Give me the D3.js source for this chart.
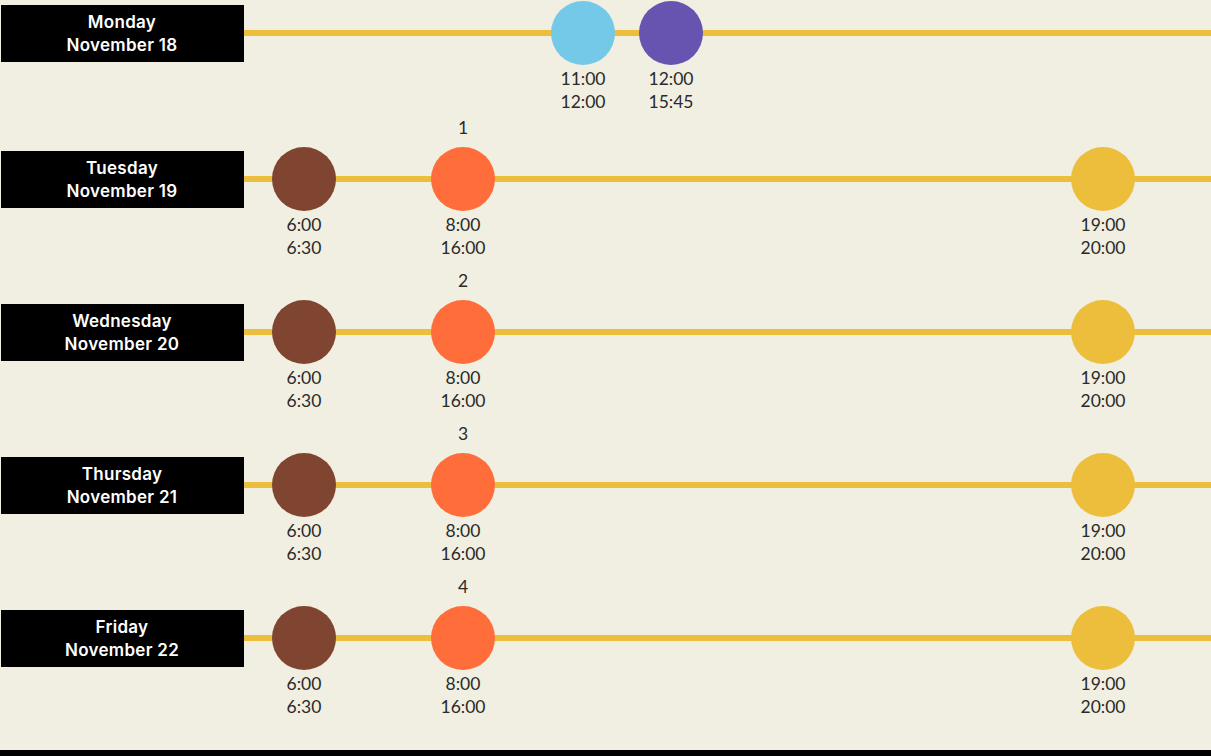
<!DOCTYPE html>
<html>
<head>
<meta charset="utf-8">
<script src="https://cdn.jsdelivr.net/npm/d3@7"></script>
<style>
  html, body { margin: 0; padding: 0; background: #f1efe1; }
  svg { display: block; }
</style>
</head>
<body>
<div id="schedule"></div>
<script>
// Days shown on the left
const days = ["Monday", "Tuesday", "Wednesday", "Thursday", "Friday"];
const dates = ["November 18", "November 19", "November 20", "November 21", "November 22"];

// Events (one entry per circle)
const eventDay = ["Monday", "Monday",
  "Tuesday", "Tuesday", "Tuesday",
  "Wednesday", "Wednesday", "Wednesday",
  "Thursday", "Thursday", "Thursday",
  "Friday", "Friday", "Friday"];
const eventStart = ["11:00", "12:00",
  "6:00", "8:00", "19:00",
  "6:00", "8:00", "19:00",
  "6:00", "8:00", "19:00",
  "6:00", "8:00", "19:00"];
const eventEnd = ["12:00", "15:45",
  "6:30", "16:00", "20:00",
  "6:30", "16:00", "20:00",
  "6:30", "16:00", "20:00",
  "6:30", "16:00", "20:00"];
const eventType = ["arrival", "opening",
  "breakfast", "session", "dinner",
  "breakfast", "session", "dinner",
  "breakfast", "session", "dinner",
  "breakfast", "session", "dinner"];
const eventNumber = ["", "",
  "", "1", "",
  "", "2", "",
  "", "3", "",
  "", "4", ""];

const types = ["arrival", "opening", "breakfast", "session", "dinner"];
const typeColors = ["#74c9e8", "#6753b0", "#7f4530", "#ff6d3b", "#ecbe3c"];

const width = 1211, height = 756;
const boxW = 243, boxH = 57, r = 32;

const hour = s => { const [h, m] = s.split(":"); return +h + (+m) / 60; };

const events = eventDay.map((d, i) => ({
  day: d, start: eventStart[i], end: eventEnd[i],
  type: eventType[i], num: eventNumber[i]
}));

const svg = d3.select("#schedule")
  .append("svg")
  .attr("width", width)
  .attr("height", height);

svg.append("rect")
  .attr("width", width)
  .attr("height", height)
  .attr("fill", "#f1efe1");

// Row positions
const y = d3.scaleLinear()
  .domain([0, 1, 4])
  .range([33, 179, 638]);

// Time of day -> x (stretched around the busy slots)
const x = d3.scaleLinear()
  .domain([6, 8, 11, 12, 19])
  .range([304, 463, 583, 671, 1103]);

const color = d3.scaleOrdinal().domain(types).range(typeColors);

const labelFont = "600 17px Inter, sans-serif";
const timeFont = "17.5px Lato, sans-serif";

const rows = svg.selectAll(".row")
  .data(days)
  .enter().append("g")
  .attr("class", "row")
  .attr("transform", (d, i) => `translate(0,${y(i)})`);

// Timeline line
rows.append("line")
  .attr("x1", boxW)
  .attr("x2", width)
  .attr("stroke", "#ecbe3c")
  .attr("stroke-width", 6);

// Day label box
rows.append("rect")
  .attr("x", 1)
  .attr("y", -28)
  .attr("width", boxW)
  .attr("height", boxH)
  .attr("fill", "#000");

rows.append("text")
  .attr("x", 122)
  .attr("y", -5)
  .attr("text-anchor", "middle")
  .attr("fill", "#fff")
  .style("font", labelFont)
  .style("letter-spacing", "0.3px")
  .text(d => d);

rows.append("text")
  .attr("x", 122)
  .attr("y", 18)
  .attr("text-anchor", "middle")
  .attr("fill", "#fff")
  .style("font", labelFont)
  .style("letter-spacing", "0.3px")
  .text((d, i) => dates[i]);

// Events
const ev = svg.selectAll(".event")
  .data(events)
  .enter().append("g")
  .attr("class", "event")
  .attr("transform", d => `translate(${x(hour(d.start))},${y(days.indexOf(d.day))})`);

ev.append("circle")
  .attr("r", r)
  .attr("fill", d => color(d.type));

ev.append("text")
  .attr("y", 52)
  .attr("text-anchor", "middle")
  .attr("fill", "#2a2a2a")
  .style("font", timeFont)
  .text(d => d.start);

ev.append("text")
  .attr("y", 75)
  .attr("text-anchor", "middle")
  .attr("fill", "#2a2a2a")
  .style("font", timeFont)
  .text(d => d.end);

ev.filter(d => d.num !== "")
  .append("text")
  .attr("y", -45)
  .attr("text-anchor", "middle")
  .attr("fill", "#2a2a2a")
  .style("font", timeFont)
  .text(d => d.num);

// Bottom rule
svg.append("rect")
  .attr("x", 0)
  .attr("y", 750)
  .attr("width", width)
  .attr("height", 6)
  .attr("fill", "#000");
</script>
</body>
</html>
